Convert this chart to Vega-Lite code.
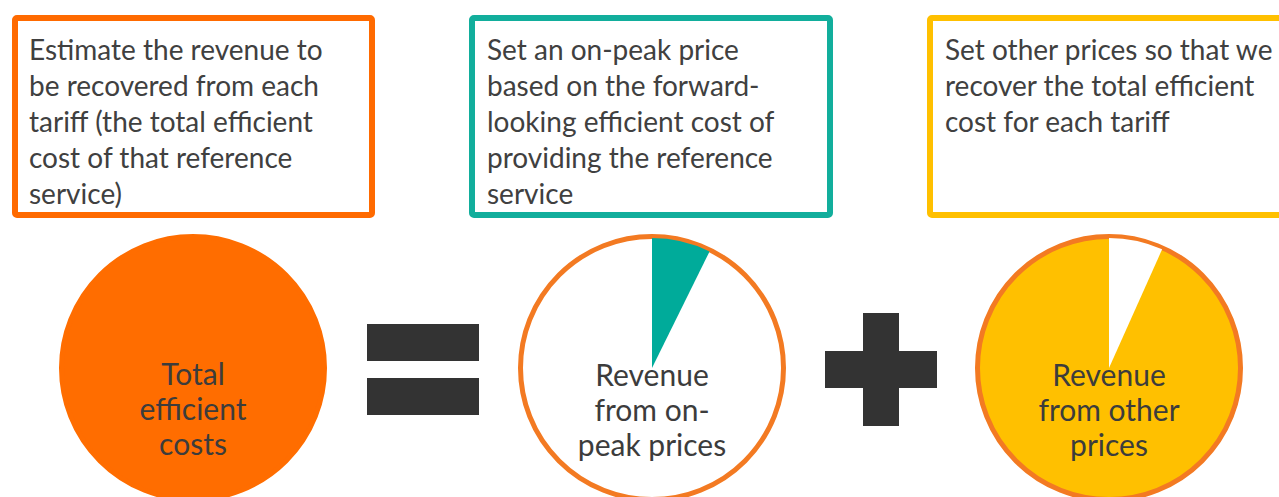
{
  "$schema": "https://vega.github.io/schema/vega-lite/v6.json",
  "width": 1279,
  "height": 497,
  "padding": 0,
  "autosize": {"type": "none"},
  "background": "#FFFFFF",
  "config": {"view": {"stroke": null}},
  "encoding": {
    "x": {"field": "x", "type": "quantitative", "scale": {"domain": [0, 1279], "nice": false, "zero": false}, "axis": null},
    "y": {"field": "y", "type": "quantitative", "scale": {"domain": [0, 497], "nice": false, "zero": false, "reverse": true}, "axis": null}
  },
  "layer": [
    {
      "data": {"values": [
        {"box": "estimate", "x": 15, "x2": 372, "y": 18, "y2": 215},
        {"box": "onpeak", "x": 472, "x2": 830, "y": 18, "y2": 215},
        {"box": "other", "x": 930, "x2": 1295, "y": 18, "y2": 215}
      ]},
      "mark": {"type": "rect", "fill": "#FFFFFF", "strokeWidth": 6, "cornerRadius": 2},
      "encoding": {
        "x2": {"field": "x2"},
        "y2": {"field": "y2"},
        "stroke": {"field": "box", "type": "nominal", "scale": {"domain": ["estimate", "onpeak", "other"], "range": ["#FF6A00", "#12AE9C", "#FFC000"]}, "legend": null}
      }
    },
    {
      "data": {"values": [
        {"text": "Estimate the revenue to\nbe recovered from each\ntariff (the total efficient\ncost of that reference\nservice)", "x": 29, "y": 60},
        {"text": "Set an on-peak price\nbased on the forward-\nlooking efficient cost of\nproviding the reference\nservice", "x": 487, "y": 60},
        {"text": "Set other prices so that we\nrecover the total efficient\ncost for each tariff", "x": 945, "y": 60}
      ]},
      "mark": {"type": "text", "align": "left", "baseline": "alphabetic", "font": "Lato", "fontSize": 28, "lineHeight": 36, "lineBreak": "\n", "color": "#404040"},
      "encoding": {"text": {"field": "text"}}
    },
    {
      "data": {"values": [
        {"circle": "total", "x": 193, "y": 368},
        {"circle": "onpeak", "x": 652, "y": 368},
        {"circle": "other", "x": 1109, "y": 368}
      ]},
      "mark": {"type": "point", "shape": "circle", "filled": true, "size": 69169, "strokeWidth": 5, "opacity": 1},
      "encoding": {
        "fill": {"field": "circle", "type": "nominal", "scale": {"domain": ["total", "onpeak", "other"], "range": ["#FF6D00", "#FFFFFF", "#FFC000"]}, "legend": null},
        "stroke": {"field": "circle", "type": "nominal", "scale": {"domain": ["total", "onpeak", "other"], "range": ["#FF6D00", "#F37A22", "#F37A22"]}, "legend": null}
      }
    },
    {
      "data": {"values": [
        {"part": "on-peak revenue", "x": 652, "y": 368, "start": 0, "end": 0.073},
        {"part": "on-peak gap", "x": 1109, "y": 368, "start": 0, "end": 0.067}
      ]},
      "mark": {"type": "arc", "outerRadius": 130, "innerRadius": 0},
      "encoding": {
        "theta": {"field": "start", "type": "quantitative", "stack": null, "scale": {"domain": [0, 1], "range": [0, 6.283185307179586]}},
        "theta2": {"field": "end"},
        "fill": {"field": "part", "type": "nominal", "scale": {"domain": ["on-peak revenue", "on-peak gap"], "range": ["#00AB9A", "#FFFFFF"]}, "legend": null}
      }
    },
    {
      "data": {"values": [
        {"sign": "equals", "x": 367, "x2": 479, "y": 324, "y2": 361},
        {"sign": "equals", "x": 367, "x2": 479, "y": 378, "y2": 415},
        {"sign": "plus", "x": 825, "x2": 937, "y": 351, "y2": 388},
        {"sign": "plus", "x": 863, "x2": 899, "y": 313, "y2": 426}
      ]},
      "mark": {"type": "rect", "color": "#333333"},
      "encoding": {"x2": {"field": "x2"}, "y2": {"field": "y2"}}
    },
    {
      "data": {"values": [
        {"text": "Total\nefficient\ncosts", "x": 193, "y": 385},
        {"text": "Revenue\nfrom on-\npeak prices", "x": 652, "y": 386},
        {"text": "Revenue\nfrom other\nprices", "x": 1109, "y": 386}
      ]},
      "mark": {"type": "text", "align": "center", "baseline": "alphabetic", "font": "Lato", "fontSize": 30, "lineHeight": 35, "lineBreak": "\n", "color": "#3C3C3C"},
      "encoding": {"text": {"field": "text"}}
    }
  ],
  "resolve": {"scale": {"fill": "independent", "stroke": "independent"}}
}
